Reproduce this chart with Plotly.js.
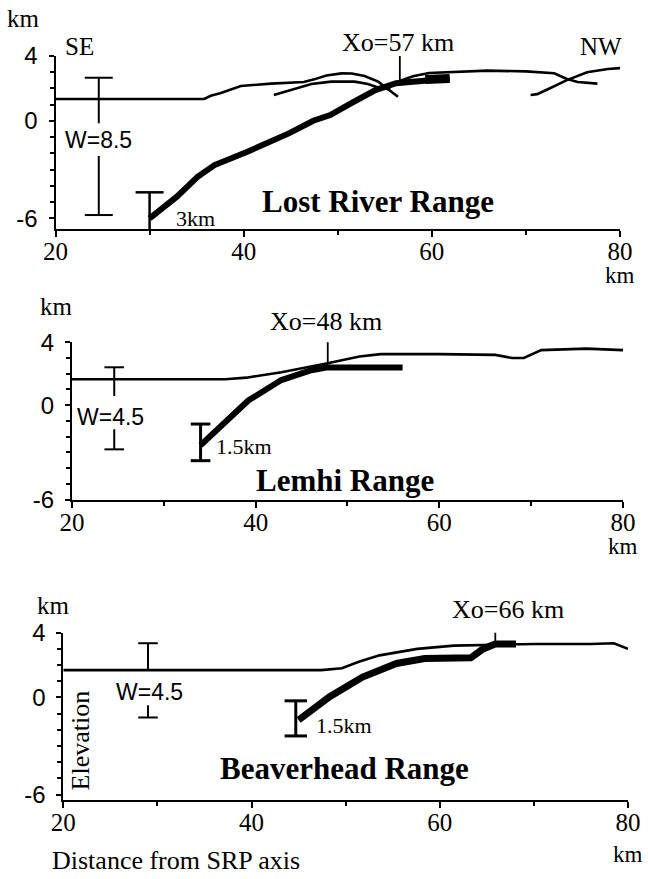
<!DOCTYPE html>
<html>
<head>
<meta charset="utf-8">
<script src="https://cdn.plot.ly/plotly-3.0.1.min.js"></script>
<style>html,body{margin:0;padding:0;background:#fff;}#chart{width:648px;height:879px;}</style>
</head>
<body>
<div id="chart"></div>
<script>
// ---------- DATA (km) ----------
const xTicks = [20, 40, 60, 80];
const xMinor = [30, 50, 70];
const yTicks = [4, 0, -6];
const yTickText = ['4', '0', '-6'];

// Lost River Range
const lrTopoAX = [20, 35.8, 36.5, 37.5, 39.7, 42.9, 46.4, 47.5, 48.8, 50.4, 51.5, 52.85, 54.3, 55.3, 56.4];
const lrTopoAY = [1.35, 1.35, 1.55, 1.7, 2.15, 2.3, 2.4, 2.56, 2.8, 2.93, 2.92, 2.77, 2.42, 2.0, 1.49];
const lrTopoBX = [43.2, 45.4, 47.2, 49.3, 51.8, 53.2, 54.6, 55.6];
const lrTopoBY = [1.6, 1.95, 2.27, 2.42, 2.42, 2.27, 2.0, 1.95];
const lrTopoCX = [56.5, 58, 59.7, 62, 65.9, 70, 73, 74.3, 75.5, 77.6];
const lrTopoCY = [2.45, 2.75, 2.95, 3.0, 3.1, 3.05, 2.94, 2.6, 2.4, 2.3];
const lrTopoDX = [70.5, 71.2, 72.5, 74.3, 76.5, 78.7, 80];
const lrTopoDY = [1.6, 1.65, 2.0, 2.5, 3.0, 3.2, 3.25];
const lrFaultX = [30.0, 32.9, 35.1, 36.9, 40.4, 44.8, 47.4, 49.2, 51.4, 54.0, 56.2, 59.75, 61.9];
const lrFaultY = [-6.0, -4.67, -3.44, -2.72, -1.9, -0.77, 0.01, 0.36, 1.08, 1.9, 2.32, 2.56, 2.62];
const lrBlockX = [59.3, 61.9];
const lrBlockY = [2.55, 2.62];
const lrWBar = [24.6, 2.66, -0.15, -2.16, -5.8];   // x, top, gap start, gap end, bottom
const lrTBar = [30.0, -4.4, -7.44];                 // x, top, bottom
const lrXo = [56.6, 4.15, 2.5];                     // x, top, bottom

// Lemhi Range
const lhTopoX = [20, 36.7, 39, 42.8, 47.7, 51.3, 53.6, 60, 66.1, 67.9, 69.2, 71.1, 76, 80];
const lhTopoY = [1.65, 1.65, 1.75, 2.1, 2.65, 3.1, 3.25, 3.25, 3.2, 3.0, 3.0, 3.5, 3.6, 3.5];
const lhFaultX = [34.0, 36.1, 39.2, 42.8, 45.9, 47.7, 56.0];
const lhFaultY = [-2.55, -1.4, 0.3, 1.6, 2.2, 2.4, 2.4];
const lhWBar = [24.6, 2.41, 0.58, -1.53, -2.81];
const lhTBar = [34.0, -1.2, -3.53];
const lhXo = [47.85, 4.19, 2.56];

// Beaverhead Range
const bhTopoX = [20, 47.4, 49.6, 51.4, 53.6, 57.6, 61.5, 66, 70, 76, 78.5, 80];
const bhTopoY = [1.69, 1.69, 1.8, 2.2, 2.6, 3.0, 3.2, 3.25, 3.3, 3.3, 3.35, 3.0];
const bhFaultX = [45.0, 48.3, 51.8, 55.4, 58.4, 63.3, 64.6, 65.9, 68.1];
const bhFaultY = [-1.4, 0.04, 1.26, 2.1, 2.4, 2.45, 3.0, 3.3, 3.3];
const bhWBar = [29.0, 3.35, 1.69, -0.48, -1.24];
const bhTBar = [44.7, -0.21, -2.38];
const bhXo = [65.9, 4.7, 3.3];

// ---------- BUILD ----------
const serif = 'Liberation Serif, Times New Roman, serif';
const sans = 'Liberation Sans, Arial, sans-serif';
const xRange = [20, 80];
const yRanges = {y: [-6.66, 4], y2: [-6, 4], y3: [-6.34, 4]};
const traces = [];
function line(xa, ya, xs, ys, w) {
  traces.push({type: 'scatter', mode: 'lines', x: xs, y: ys, xaxis: xa, yaxis: ya,
    line: {color: 'black', width: w}, hoverinfo: 'skip', showlegend: false, cliponaxis: false});
}
function caps(xa, ya, xs, ys, size, w) {
  traces.push({type: 'scatter', mode: 'markers', x: xs, y: ys, xaxis: xa, yaxis: ya,
    marker: {symbol: 'line-ew', size: size, line: {color: 'black', width: w}},
    hoverinfo: 'skip', showlegend: false, cliponaxis: false});
}
function gapBar(xa, ya, b, capSize, w) {
  line(xa, ya, [b[0], b[0], null, b[0], b[0]], [b[1], b[2], null, b[3], b[4]], w);
  caps(xa, ya, [b[0], b[0]], [b[1], b[4]], capSize, w);
}
function fullBar(xa, ya, b, capSize, w) {
  line(xa, ya, [b[0], b[0]], [b[1], b[2]], w);
  caps(xa, ya, [b[0], b[0]], [b[1], b[2]], capSize, w);
}

// panel 1
line('x', 'y', lrTopoAX, lrTopoAY, 2.6);
line('x', 'y', lrTopoBX, lrTopoBY, 2.6);
line('x', 'y', lrTopoCX, lrTopoCY, 2.6);
line('x', 'y', lrTopoDX, lrTopoDY, 2.6);
line('x', 'y', lrFaultX, lrFaultY, 6);
line('x', 'y', lrBlockX, lrBlockY, 9);
gapBar('x', 'y', lrWBar, 20, 2);
fullBar('x', 'y', lrTBar, 20, 2.5);
line('x', 'y', [lrXo[0], lrXo[0]], [lrXo[1], lrXo[2]], 1.8);

// panel 2
line('x2', 'y2', lhTopoX, lhTopoY, 2.6);
line('x2', 'y2', lhFaultX, lhFaultY, 6);
gapBar('x2', 'y2', lhWBar, 14, 2);
fullBar('x2', 'y2', lhTBar, 14, 3);
line('x2', 'y2', [lhXo[0], lhXo[0]], [lhXo[1], lhXo[2]], 1.8);

// panel 3
line('x3', 'y3', bhTopoX, bhTopoY, 2.6);
line('x3', 'y3', bhFaultX, bhFaultY, 7);
gapBar('x3', 'y3', bhWBar, 14, 2);
fullBar('x3', 'y3', bhTBar, 16, 3);
line('x3', 'y3', [bhXo[0], bhXo[0]], [bhXo[1], bhXo[2]], 1.8);

function xaxis(dom, anchor) {
  return {domain: dom, anchor: anchor, range: xRange, showgrid: false, zeroline: false,
    showline: true, linecolor: 'black', linewidth: 2, ticks: 'outside', ticklen: 6, tickwidth: 2,
    tickcolor: 'black', tickmode: 'array', tickvals: xTicks,
    ticklabelstandoff: -7,
    tickfont: {family: serif, size: 25, color: 'black'},
    minor: {tickmode: 'array', tickvals: xMinor, ticks: 'outside', ticklen: 4, tickwidth: 2, tickcolor: 'black'},
    fixedrange: true};
}
function yaxis(dom, anchor, range) {
  return {domain: dom, anchor: anchor, range: range, showgrid: false, zeroline: false,
    showline: true, linecolor: 'black', linewidth: 2, ticks: 'outside', ticklen: 5, tickwidth: 2,
    tickcolor: 'black', tickmode: 'array', tickvals: yTicks, ticktext: yTickText,
    ticklabelstandoff: 6,
    tickfont: {family: sans, size: 24, color: 'black'},
    minor: {tickmode: 'linear', tick0: 0, dtick: 1, ticks: 'outside', ticklen: 4, tickwidth: 2, tickcolor: 'black'},
    fixedrange: true};
}

// annotations placed in axis-domain units (converted from km so that text outside the range still shows)
function ann(xa, ya, x, y, text, font, size, extra) {
  const yr = yRanges[ya];
  return Object.assign({
    xref: xa + ' domain', yref: ya + ' domain',
    x: (x - xRange[0]) / (xRange[1] - xRange[0]),
    y: (y - yr[0]) / (yr[1] - yr[0]),
    text: text, showarrow: false,
    xanchor: 'center', yanchor: 'middle', font: {family: font, size: size, color: 'black'}}, extra || {});
}

const annotations = [
  // panel 1
  ann('x', 'y', 16.6, 6.34, 'km', serif, 25),
  ann('x', 'y', 22.5, 4.6, 'SE', serif, 25),
  ann('x', 'y', 78.0, 4.6, 'NW', serif, 25),
  ann('x', 'y', 56.45, 4.85, 'Xo=57 km', serif, 26),
  ann('x', 'y', 54.25, -4.98, '<b>Lost River Range</b>', serif, 31),
  ann('x', 'y', 34.9, -6.0, '3km', serif, 22),
  ann('x', 'y', 24.6, -1.2, 'W=8.5', sans, 23),
  ann('x', 'y', 80.0, -9.05, 'km', serif, 23, {yanchor: 'top', yshift: 7}),
  // panel 2
  ann('x2', 'y2', 18.3, 6.27, 'km', serif, 25),
  ann('x2', 'y2', 47.7, 5.31, 'Xo=48 km', serif, 26),
  ann('x2', 'y2', 24.2, -0.73, 'W=4.5', sans, 23),
  ann('x2', 'y2', 38.7, -2.64, '1.5km', serif, 22),
  ann('x2', 'y2', 49.7, -4.76, '<b>Lemhi Range</b>', serif, 31),
  ann('x2', 'y2', 80.0, -8.5, 'km', serif, 23, {yanchor: 'top', yshift: 7}),
  // panel 3
  ann('x3', 'y3', 19.0, 5.71, 'km', serif, 25),
  ann('x3', 'y3', 67.2, 5.41, 'Xo=66 km', serif, 26),
  ann('x3', 'y3', 29.2, 0.35, 'W=4.5', sans, 23),
  ann('x3', 'y3', 49.85, -1.72, '1.5km', serif, 22),
  ann('x3', 'y3', 49.85, -4.4, '<b>Beaverhead Range</b>', serif, 31),
  ann('x3', 'y3', 21.8, -2.64, 'Elevation', serif, 26, {textangle: -90}),
  ann('x3', 'y3', 18.6, -10.05, 'Distance from SRP axis', serif, 26, {xanchor: 'left'}),
  ann('x3', 'y3', 80.0, -9.25, 'km', serif, 23, {yanchor: 'top', yshift: 7})
];

const layout = {
  width: 648, height: 879,
  margin: {l: 0, r: 0, t: 0, b: 0},
  paper_bgcolor: 'white', plot_bgcolor: 'white',
  showlegend: false,
  xaxis: xaxis([0.08565, 0.95679], 'y'),
  yaxis: yaxis([0.73948, 0.93629], 'x', yRanges.y),
  xaxis2: xaxis([0.11111, 0.96142], 'y2'),
  yaxis2: yaxis([0.43174, 0.61058], 'x2', yRanges.y2),
  xaxis3: xaxis([0.09769, 0.96914], 'y3'),
  yaxis3: yaxis([0.08987, 0.28020], 'x3', yRanges.y3),
  annotations: annotations
};

Plotly.newPlot('chart', traces, layout, {staticPlot: true, displayModeBar: false});
</script>
</body>
</html>
